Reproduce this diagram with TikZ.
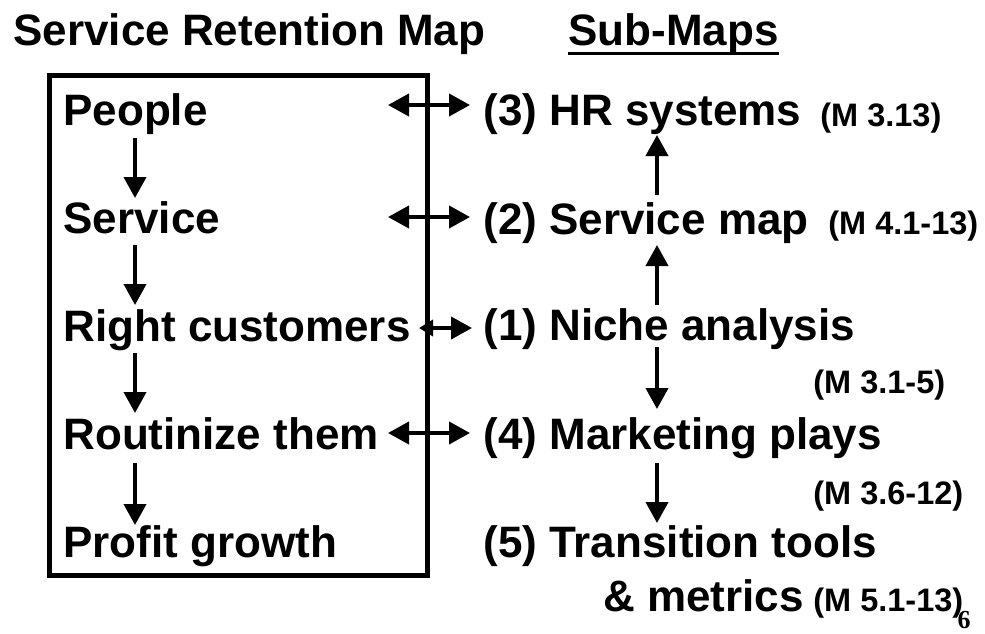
\documentclass[tikz,border=0pt]{standalone}
\usepackage{fontspec}
\setmainfont{Liberation Sans}
\newfontfamily\pagefont{Liberation Serif}
\usetikzlibrary{arrows.meta}

\tikzset{
  item/.style={font=\bfseries\fontsize{22}{26}\selectfont, inner sep=0pt, anchor=base west},
  mref/.style={font=\bfseries\fontsize{16.25}{19}\selectfont, inner sep=0pt, anchor=base west},
  flow/.style={-{Triangle[length=10.5pt,width=11pt]}, line width=2pt},
  link/.style={{Triangle[length=10.5pt,width=11pt]}-{Triangle[length=10.5pt,width=11pt]}, line width=2pt},
}

\begin{document}
\begin{tikzpicture}[x=0.5pt,y=-0.5pt]
\useasboundingbox (0,0) rectangle (985,633);

% headings
\node[item] (title) at (13,45) {Service Retention Map};
\node[item] (submaps) at (568,45) {Sub-Maps};
\draw[line width=1.5pt] ([yshift=-4.3pt]submaps.base west) -- ([yshift=-4.3pt]submaps.base east);

% the retention map
\draw[line width=2.5pt] (49.5,75.5) rectangle (427.5,575);
\node[item] (people) at (63,125) {People};
\node[item] (service) at (63,233) {Service};
\node[item] (rightcust) at (63,341) {Right customers};
\node[item] (routinize) at (63,449) {Routinize them};
\node[item] (profit) at (63,557) {Profit growth};

\draw[flow] ([shift={(72,13)}]people.base west) -- ([shift={(72,-35)}]service.base west);
\draw[flow] ([shift={(72,12)}]service.base west) -- ([shift={(72,-36)}]rightcust.base west);
\draw[flow] ([shift={(72,12)}]rightcust.base west) -- ([shift={(72,-36)}]routinize.base west);
\draw[flow] ([shift={(72,14)}]routinize.base west) -- ([shift={(72,-32)}]profit.base west);

% sub-maps
\node[item] (hr) at (483,125) {(3) HR systems};
\node[item] (svcmap) at (483,234) {(2) Service map};
\node[item] (niche) at (483,340) {(1) Niche analysis};
\node[item] (mktg) at (483,449) {(4) Marketing plays};
\node[item] (trans) at (483,557) {(5) Transition tools};
\node[item] (metrics) at (603,611) {\& metrics};

\node[mref] (hrref) at (820,126) {(M 3.13)};
\node[mref] (svcref) at (828,234) {(M 4.1-13)};
\node[mref] (nicheref) at (813,393) {(M 3.1-5)};
\node[mref] (mktgref) at (813,504) {(M 3.6-12)};
\node[mref] (transref) at (813,611) {(M 5.1-13)};

\draw[flow] ([shift={(174,-39)}]svcmap.base west) -- ([shift={(174,10)}]hr.base west);
\draw[flow] ([shift={(174,-35)}]niche.base west) -- ([shift={(174,11)}]svcmap.base west);
\draw[flow] ([shift={(174,7)}]niche.base west) -- ([shift={(174,-40)}]mktg.base west);
\draw[flow] ([shift={(174,14)}]mktg.base west) -- ([shift={(174,-34)}]trans.base west);

% links between the two
\draw[link] ([shift={(-95,-20)}]hr.base west) -- ([shift={(-13,-20)}]hr.base west);
\draw[link] ([shift={(-95,-17)}]svcmap.base west) -- ([shift={(-13,-17)}]svcmap.base west);
\draw[{Triangle[length=7pt,width=8pt]}-{Triangle[length=10.5pt,width=11pt]}, line width=2pt]
  ([shift={(-64,-12)}]niche.base west) -- ([shift={(-11,-12)}]niche.base west);
\draw[link] ([shift={(-95,-16)}]mktg.base west) -- ([shift={(-13,-16)}]mktg.base west);

\node[font=\pagefont\bfseries\fontsize{13}{15}\selectfont, inner sep=0pt] (pagenum) at (964,620) {6};
\end{tikzpicture}
\end{document}
